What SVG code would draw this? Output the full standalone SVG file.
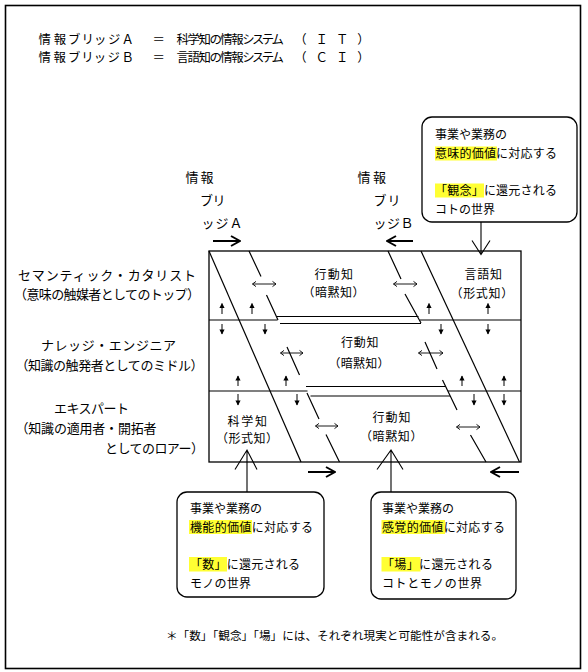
<svg xmlns="http://www.w3.org/2000/svg" width="588" height="672" viewBox="0 0 588 672">
<style>
  text { font-family: "Noto Sans CJK JP", "Noto Sans CJK SC", sans-serif; fill: #000; }
  .t13 { font-size: 13px; }
  .t12 { font-size: 12px; }
  .tt { font-size: 12.4px; font-feature-settings: "palt" 1; }
  .ln { fill: none; stroke: #000; stroke-width: 1.2; }
  .frame { fill: #fff; stroke: #000; stroke-width: 1.6; }
  .box { fill: none; stroke: #000; stroke-width: 1.3; }
  .callout { fill: #fff; stroke: #000; stroke-width: 1.3; }
  .hl { fill: #ffff33; }
  .sa { fill: none; stroke: #000; stroke-width: 1; marker-end: url(#sh); }
  .da { fill: none; stroke: #000; stroke-width: 0.9; marker-start: url(#oh); marker-end: url(#oh); }
  .ba { fill: none; stroke: #000; stroke-width: 2; marker-end: url(#bh); }
  .ptr { fill: none; stroke: #000; stroke-width: 1.1; }
</style>
<defs>
  <marker id="sh" viewBox="-6 -4 7 8" refX="0" refY="0" markerWidth="7" markerHeight="8" markerUnits="userSpaceOnUse" orient="auto">
    <path d="M0.5,0 L-4.5,-2.6 L-4.5,2.6 Z" fill="#000"/>
  </marker>
  <marker id="oh" viewBox="-5 -4 6 8" refX="0" refY="0" markerWidth="6" markerHeight="8" markerUnits="userSpaceOnUse" orient="auto-start-reverse">
    <path d="M-3.5,-2.6 L0,0 L-3.5,2.6" fill="none" stroke="#000" stroke-width="0.9"/>
  </marker>
  <marker id="bh" viewBox="-12 -7 13 14" refX="0" refY="0" markerWidth="13" markerHeight="14" markerUnits="userSpaceOnUse" orient="auto">
    <path d="M-9,-5 L0,0 L-9,5" fill="none" stroke="#000" stroke-width="2"/>
  </marker>
</defs>

<rect class="frame" x="5.5" y="5.5" width="575" height="663"/>

<g id="title">
  <text class="tt" x="38.5" y="44.3" textLength="94">情報ブリッジＡ</text>
  <text class="tt" x="152.5" y="44.3">＝</text>
  <text class="tt" x="176.5" y="44.3" textLength="107">科学知の情報システム</text>
  <text class="tt" x="300" y="44.3" textLength="64">（ＩＴ）</text>
  <text class="tt" x="38.5" y="62.3" textLength="94">情報ブリッジＢ</text>
  <text class="tt" x="152.5" y="62.3">＝</text>
  <text class="tt" x="176.5" y="62.3" textLength="107">言語知の情報システム</text>
  <text class="tt" x="300" y="62.3" textLength="64">（ＣＩ）</text>
</g>

<g id="role-top">
  <text class="t13" x="18" y="280" textLength="178">セマンティック・カタリスト</text>
  <text class="t13" x="14" y="298.5" textLength="186">（意味の触媒者としてのトップ）</text>
</g>
<g id="role-middle">
  <text class="t13" x="41" y="350" textLength="135">ナレッジ・エンジニア</text>
  <text class="t13" x="15.5" y="370" textLength="188">（知識の触発者としてのミドル）</text>
</g>
<g id="role-lower">
  <text class="t13" x="54" y="413" textLength="75">エキスパート</text>
  <text class="t13" x="15.5" y="433" textLength="141">（知識の適用者・開拓者</text>
  <text class="t13" x="105" y="452.7" textLength="99">としてのロアー）</text>
</g>

<g id="bridge-a-label">
  <text class="t13" x="185.5" y="182" textLength="28">情報</text>
  <text class="t13" x="200" y="205" textLength="25.5">ブリ</text>
  <text class="t13" x="201.5" y="227.7" textLength="41">ッジＡ</text>
</g>
<g id="bridge-b-label">
  <text class="t13" x="357.5" y="182" textLength="28.5">情報</text>
  <text class="t13" x="373.5" y="205" textLength="27">ブリ</text>
  <text class="t13" x="373.5" y="227.7" textLength="40">ッジＢ</text>
</g>

<g id="layer-box">
  <rect class="box" x="209" y="251" width="312" height="211"/>
</g>

<g id="cell-top-kodochi">
  <text class="t12" x="314.5" y="278.6" textLength="38.5">行動知</text>
  <text class="t12" x="302.5" y="297.3" textLength="62">（暗黙知）</text>
</g>
<g id="cell-top-gengochi">
  <text class="t12" x="464.5" y="278.6" textLength="37.5">言語知</text>
  <text class="t12" x="450.5" y="297.6" textLength="62.7">（形式知）</text>
</g>
<g id="cell-middle-kodochi">
  <text class="t12" x="341" y="347.3" textLength="37.5">行動知</text>
  <text class="t12" x="328.5" y="368" textLength="61">（暗黙知）</text>
</g>
<g id="cell-lower-kagakuchi">
  <text class="t12" x="227.5" y="426.3" textLength="39.5">科学知</text>
  <text class="t12" x="216" y="443" textLength="62">（形式知）</text>
</g>
<g id="cell-lower-kodochi">
  <text class="t12" x="372.5" y="422" textLength="38">行動知</text>
  <text class="t12" x="360" y="441.3" textLength="62.5">（暗黙知）</text>
</g>

<g id="callout-kannen">
  <rect class="callout" x="422" y="117" width="155" height="105" rx="10"/>
  <rect class="hl" x="435" y="146.5" width="62" height="14"/>
  <rect class="hl" x="435" y="183.5" width="49" height="14"/>
  <text class="t12" x="435" y="138.6" textLength="72">事業や業務の</text>
  <text class="t12" x="435" y="157.6" textLength="122">意味的価値に対応する</text>
  <text class="t12" x="435" y="194.6" textLength="122">「観念」に還元される</text>
  <text class="t12" x="435" y="213.6" textLength="60">コトの世界</text>
</g>
<g id="callout-kazu">
  <rect class="callout" x="177" y="492" width="147" height="105" rx="10"/>
  <rect class="hl" x="189" y="520" width="63" height="14"/>
  <rect class="hl" x="189" y="557" width="38" height="14.5"/>
  <text class="t12" x="190" y="512.6" textLength="72">事業や業務の</text>
  <text class="t12" x="190" y="531.6" textLength="123">機能的価値に対応する</text>
  <text class="t12" x="190" y="568.6" textLength="110">「数」に還元される</text>
  <text class="t12" x="190" y="587.6" textLength="61">モノの世界</text>
</g>
<g id="callout-ba">
  <rect class="callout" x="371" y="492" width="145" height="107" rx="10"/>
  <rect class="hl" x="381.5" y="520" width="63.5" height="14"/>
  <rect class="hl" x="381.5" y="557" width="39" height="14.5"/>
  <text class="t12" x="382" y="512.6" textLength="72">事業や業務の</text>
  <text class="t12" x="382" y="531.6" textLength="123">感覚的価値に対応する</text>
  <text class="t12" x="382" y="568.6" textLength="111">「場」に還元される</text>
  <text class="t12" x="382" y="587.6" textLength="100">コトとモノの世界</text>
</g>

<g id="footnote">
  <text x="166" y="639.5" style="font-size:11.6px" textLength="337">＊「数」「観念」「場」には、それぞれ現実と可能性が含まれる。</text>
</g>

<g id="connectors">
  <!-- layer boundaries -->
  <path class="ln" d="M209,320 H277.5 M277,316.5 H418.5 M280,323.5 H421 M420,320 H521"/>
  <path class="ln" d="M209,391 H307.5 M306,386.5 H445.5 M310.5,396 H450 M448,391 H521"/>
  <!-- information bridge A -->
  <path class="ln" d="M209,251 L301,462"/>
  <path class="ln" d="M249,251 L261,276.5 M266.5,295 L278,320 M287,347 L299.5,375 M307,393 L319,419 M326,434.5 L339.5,462"/>
  <!-- information bridge B -->
  <path class="ln" d="M421,251 L519.5,462"/>
  <path class="ln" d="M388,251 L401,279 M405,294 L421,323 M425,342 L437,369 M442.5,380 L457,410 M470.5,435 L486,462"/>
  <!-- small up arrows -->
  <path class="sa" d="M222,314 V303.5"/>
  <path class="sa" d="M252,314 V303.5"/>
  <path class="sa" d="M429,314 V303.5"/>
  <path class="sa" d="M488,314 V303.5"/>
  <path class="sa" d="M238,386 V376"/>
  <path class="sa" d="M286,386 V376"/>
  <path class="sa" d="M462,386 V376"/>
  <path class="sa" d="M504,386 V376"/>
  <!-- small down arrows -->
  <path class="sa" d="M222,324 V334"/>
  <path class="sa" d="M265,324 V334"/>
  <path class="sa" d="M441,324 V334"/>
  <path class="sa" d="M488,324 V334"/>
  <path class="sa" d="M238,394 V405"/>
  <path class="sa" d="M297,394 V405"/>
  <path class="sa" d="M474,394 V405"/>
  <path class="sa" d="M504,394 V405"/>
  <!-- double arrows -->
  <path class="da" d="M252.5,284 H276"/>
  <path class="da" d="M393.5,284 H417"/>
  <path class="da" d="M280.5,353 H303"/>
  <path class="da" d="M418.5,353 H443"/>
  <path class="da" d="M315.5,426 H338"/>
  <path class="da" d="M456.5,427 H480"/>
  <!-- big flow arrows -->
  <path class="ba" d="M213,241 H240"/>
  <path class="ba" d="M413,241 H387"/>
  <path class="ba" d="M308,472 H335"/>
  <path class="ba" d="M519,472 H491"/>
  <!-- callout pointers -->
  <path class="ptr" d="M481,222 V254 M472,240.5 L481,254.5 L490,240.5"/>
  <path class="ptr" d="M247,492 V450 M235,469.5 L247,450 L257,469.5"/>
  <path class="ptr" d="M391,492 V450 M377,469.5 L391,450 L403,469.5"/>
</g>
</svg>
